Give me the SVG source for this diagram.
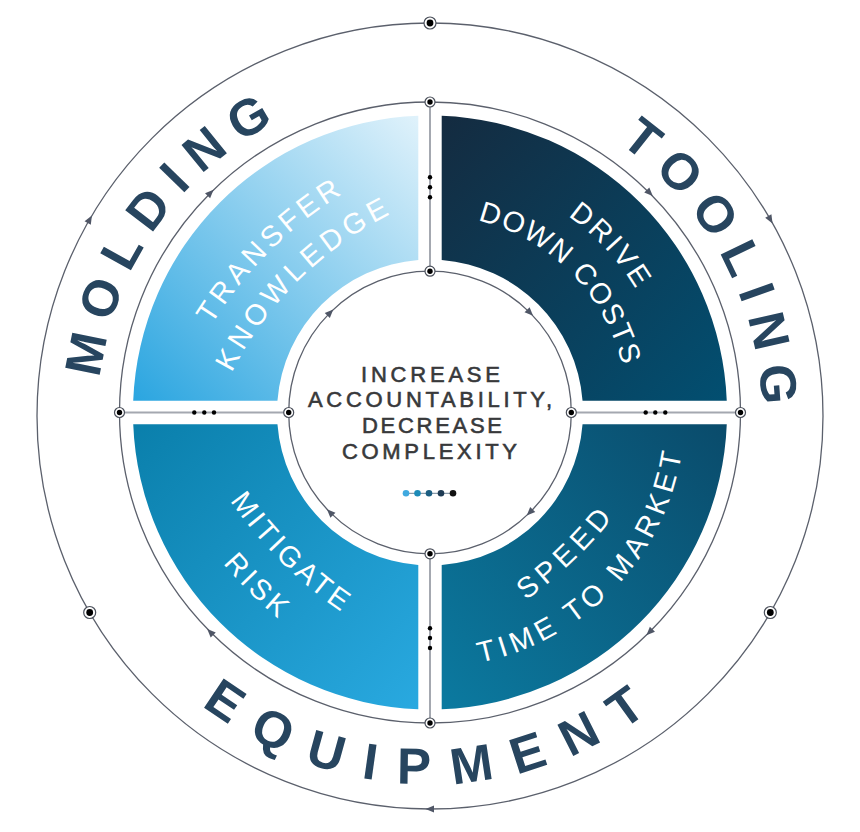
<svg xmlns="http://www.w3.org/2000/svg" width="860" height="832" viewBox="0 0 860 832">
<style>
.ring{fill:none;stroke:#5b606c;stroke-width:1.3}
.conn{stroke:#a4a8b0;stroke-width:2;fill:none}
.q{font-family:"Liberation Sans",Arial,sans-serif;font-size:29px;fill:#ffffff}
.outer{font-family:"Liberation Sans",Arial,sans-serif;font-size:51px;font-weight:bold;fill:#27455f}
.ctr{font-family:"Liberation Sans",Arial,sans-serif;font-size:22px;fill:#38393b;stroke:#38393b;stroke-width:0.6}
.sd{fill:#000000}
.arr{fill:#4f5666}
</style>
<defs>
<linearGradient id="gTL" gradientUnits="userSpaceOnUse" x1="133" y1="401" x2="418" y2="116">
<stop offset="0" stop-color="#2aa5e0"/><stop offset="1" stop-color="#e0f2fb"/></linearGradient>
<linearGradient id="gTR" gradientUnits="userSpaceOnUse" x1="441" y1="116" x2="727" y2="401">
<stop offset="0" stop-color="#142b40"/><stop offset="1" stop-color="#024f71"/></linearGradient>
<linearGradient id="gBR" gradientUnits="userSpaceOnUse" x1="441" y1="709" x2="727" y2="424">
<stop offset="0" stop-color="#0b7aa0"/><stop offset="1" stop-color="#0a4b6b"/></linearGradient>
<linearGradient id="gBL" gradientUnits="userSpaceOnUse" x1="133" y1="424" x2="418" y2="709">
<stop offset="0" stop-color="#0a7fab"/><stop offset="1" stop-color="#29a9e0"/></linearGradient>
<path id="arr" class="arr" d="M4.5,0 L-4,-3.6 L-4,3.6 Z"/>
<g id="dot"><circle r="5" fill="#ffffff" stroke="#4a4f5a" stroke-width="1.2"/><circle r="2.7" fill="#000000"/></g>
<g id="dotL"><circle r="6" fill="#ffffff" stroke="#4a4f5a" stroke-width="1.2"/><circle r="3.4" fill="#000000"/></g>
<path id="pMold" d="M130.8,560 A332,332 0 0 1 454.9,84.9"/>
<path id="pTool" d="M438.1,84.1 A332,332 0 0 1 713.4,589"/>
<path id="pEquip" d="M108.1,594.4 A368,368 0 0 0 745.4,605.5"/>
<path id="pTransfer" d="M176,398.3 A401,401 0 0 1 415.7,158.6"/>
<path id="pKnow" d="M214.5,412.3 A360,360 0 0 1 429.7,197.1"/>
<path id="pDrive" d="M479.9,177.8 A240,240 0 0 1 667.7,379.1"/>
<path id="pDown" d="M378.8,221.2 A198,198 0 0 1 621.3,463.7"/>
<path id="pSpeed" d="M474.7,632.8 A460,460 0 0 0 647.4,469"/>
<path id="pTime" d="M368.3,659.9 A255,255 0 0 0 675.1,342.2"/>
<path id="pMit" d="M211.1,470.8 A436,436 0 0 0 370.7,630.4"/>
<path id="pRisk" d="M173,492.8 A480,480 0 0 0 348.7,668.5"/>
</defs>

<g id="connectors">
<circle cx="430" cy="416" r="393" class="ring"/>
<circle cx="430" cy="412.5" r="310.5" class="ring"/>
<circle cx="430" cy="412.5" r="141.3" class="ring"/>
<line class="conn" x1="430" y1="102" x2="430" y2="271.2"/>
<line class="conn" x1="430" y1="553.8" x2="430" y2="723"/>
<line class="conn" x1="119.5" y1="412.5" x2="288.7" y2="412.5"/>
<line class="conn" x1="571.3" y1="412.5" x2="740.5" y2="412.5"/>
<use href="#arr" transform="translate(330.1,312.6) rotate(315)"/>
<use href="#arr" transform="translate(529.9,312.6) rotate(45)"/>
<use href="#arr" transform="translate(529.9,512.4) rotate(135)"/>
<use href="#arr" transform="translate(330.1,512.4) rotate(225)"/>
<use href="#arr" transform="translate(210.4,192.9) rotate(315)"/>
<use href="#arr" transform="translate(649.6,192.9) rotate(45)"/>
<use href="#arr" transform="translate(649.6,632.1) rotate(135)"/>
<use href="#arr" transform="translate(210.4,632.1) rotate(225)"/>
<use href="#arr" transform="translate(89.7,219.5) rotate(300)"/>
<use href="#arr" transform="translate(770.3,219.5) rotate(60)"/>
<use href="#arr" transform="translate(430,809) rotate(180)"/>
<circle class="sd" cx="430" cy="177.3" r="2.2"/><circle class="sd" cx="430" cy="187.3" r="2.2"/><circle class="sd" cx="430" cy="197.3" r="2.2"/>
<circle class="sd" cx="430" cy="628.3" r="2.2"/><circle class="sd" cx="430" cy="638" r="2.2"/><circle class="sd" cx="430" cy="648" r="2.2"/>
<circle class="sd" cx="194.3" cy="412.5" r="2.2"/><circle class="sd" cx="204.3" cy="412.5" r="2.2"/><circle class="sd" cx="214" cy="412.5" r="2.2"/>
<circle class="sd" cx="645.7" cy="412.5" r="2.2"/><circle class="sd" cx="655.3" cy="412.5" r="2.2"/><circle class="sd" cx="665.3" cy="412.5" r="2.2"/>
<use href="#dotL" x="430" y="23"/>
<use href="#dotL" x="89.7" y="612.5"/>
<use href="#dotL" x="770.3" y="612.5"/>
<use href="#dot" x="430" y="102"/>
<use href="#dot" x="119.5" y="412.5"/>
<use href="#dot" x="740.5" y="412.5"/>
<use href="#dot" x="430" y="723"/>
<use href="#dot" x="430" y="271.2"/>
<use href="#dot" x="288.7" y="412.5"/>
<use href="#dot" x="571.3" y="412.5"/>
<use href="#dot" x="430" y="553.8"/>
</g>

<g id="q-transfer">
<path fill="url(#gTL)" d="M418.3,115.7 A297,297 0 0 0 133.2,400.8 L277.45,400.8 A153,153 0 0 1 418.3,259.95 Z"/>
<text class="q" letter-spacing="4.3" text-anchor="middle"><textPath href="#pTransfer" startOffset="177.1">TRANSFER</textPath></text>
<text class="q" letter-spacing="4.9" text-anchor="middle"><textPath href="#pKnow" startOffset="159.5">KNOWLEDGE</textPath></text>
</g>

<g id="q-drive">
<path fill="url(#gTR)" d="M441.7,115.7 A297,297 0 0 1 726.77,400.8 L582.55,400.8 A153,153 0 0 0 441.7,259.95 Z"/>
<text class="q" letter-spacing="2.9" text-anchor="middle"><textPath href="#pDrive" startOffset="148">DRIVE</textPath></text>
<text class="q" letter-spacing="1.7" text-anchor="middle"><textPath href="#pDown" startOffset="208.2">DOWN COSTS</textPath></text>
</g>

<g id="q-speed">
<path fill="url(#gBR)" d="M726.77,424.2 A297,297 0 0 1 441.7,709.27 L441.7,565.05 A153,153 0 0 0 582.55,424.2 Z"/>
<text class="q" letter-spacing="5.3" text-anchor="middle"><textPath href="#pSpeed" startOffset="123.1">SPEED</textPath></text>
<text class="q" letter-spacing="4.9" text-anchor="middle"><textPath href="#pTime" startOffset="269.5">TIME TO MARKET</textPath></text>
</g>

<g id="q-mitigate">
<path fill="url(#gBL)" d="M418.3,709.27 A297,297 0 0 1 133.23,424.2 L277.45,424.2 A153,153 0 0 0 418.3,565.05 Z"/>
<text class="q" letter-spacing="3.3" text-anchor="middle"><textPath href="#pMit" startOffset="115.8">MITIGATE</textPath></text>
<text class="q" letter-spacing="3.5" text-anchor="middle"><textPath href="#pRisk" startOffset="127.4">RISK</textPath></text>
</g>

<g id="center">
<text class="ctr" x="361" y="381.5" textLength="139" lengthAdjust="spacing">INCREASE</text>
<text class="ctr" x="308" y="407" textLength="244" lengthAdjust="spacing">ACCOUNTABILITY,</text>
<text class="ctr" x="362" y="433" textLength="140" lengthAdjust="spacing">DECREASE</text>
<text class="ctr" x="342" y="459" textLength="175" lengthAdjust="spacing">COMPLEXITY</text>
<line x1="406" y1="493.3" x2="453" y2="493.3" stroke="#6d8496" stroke-width="1"/>
<circle cx="406" cy="493.3" r="3.3" fill="#3fa9df"/>
<circle cx="417.5" cy="493.3" r="3.3" fill="#1c8ab7"/>
<circle cx="429" cy="493.3" r="3.3" fill="#1b5e82"/>
<circle cx="441" cy="493.3" r="3.3" fill="#1f3b54"/>
<circle cx="453" cy="493.3" r="3.3" fill="#111111"/>
</g>

<g id="label-molding">
<text class="outer" letter-spacing="13.5" text-anchor="middle"><textPath href="#pMold" startOffset="354.4">MOLDING</textPath></text>
</g>
<g id="label-tooling">
<text class="outer" letter-spacing="13" text-anchor="middle"><textPath href="#pTool" startOffset="354.2">TOOLING</textPath></text>
</g>
<g id="label-equipment">
<text class="outer" letter-spacing="22" text-anchor="middle"><textPath href="#pEquip" startOffset="396.4">EQUIPMENT</textPath></text>
</g>
</svg>
